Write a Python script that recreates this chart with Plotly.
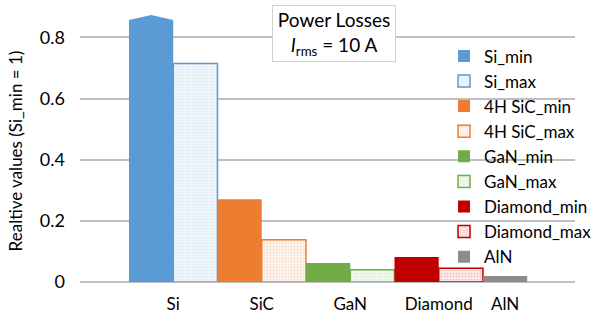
import plotly.graph_objects as go

series = ["Si_min", "Si_max", "4H SiC_min", "4H SiC_max", "GaN_min", "GaN_max",
          "Diamond_min", "Diamond_max", "AlN"]
series_category = ["Si", "Si", "SiC", "SiC", "GaN", "GaN", "Diamond", "Diamond", "AlN"]
values = [1.0, 0.715, 0.271, 0.138, 0.062, 0.040, 0.082, 0.045, 0.020]
categories = ["Si", "SiC", "GaN", "Diamond", "AlN"]
y_ticks = [0, 0.2, 0.4, 0.6, 0.8]
y_tick_labels = ["0", "0.2", "0.4", "0.6", "0.8"]

colors = ["#5b9bd5", "#5b9bd5", "#ed7d31", "#ed7d31", "#70ad47", "#70ad47",
          "#c00000", "#c00000", "#8c8c8c"]
light = ["", "#f2f7fc", "", "#fef5f0", "", "#f3f9ef", "", "#fcecec", ""]
grid_fg = ["", "#dbe8f5", "", "#fadcc9", "", "#dcedd0", "", "#f2c2c2", ""]

FONT = "Lato"
x_range = [-1.607, 9.58]
y_max = 0.857

fig = go.Figure()
for i, (name, v) in enumerate(zip(series, values)):
    if name.endswith("_max"):
        marker = dict(color=light[i],
                      line=dict(color=colors[i], width=1.5),
                      pattern=dict(shape="+", fgcolor=grid_fg[i], bgcolor=light[i],
                                   size=3, solidity=0.3, fillmode="replace"))
    else:
        marker = dict(color=colors[i], line=dict(width=0))
    fig.add_trace(go.Bar(x=[i], y=[v], name=name, width=1, marker=marker))

# tick positions = centre of each category's bars
tickvals = []
for c in categories:
    idx = [i for i, s in enumerate(series_category) if s == c]
    tickvals.append(sum(idx) / len(idx))

# broken-bar tip for the clipped Si_min bar
plot_h = 315 - 20 - 33
fig.add_shape(type="path", xref="x", yref="paper",
              path=f"M -0.5,1 L 0,{1 + 5 / plot_h} L 0.5,1 Z",
              fillcolor=colors[0], line=dict(width=0), layer="above")

fig.add_annotation(
    x=(333.5 - 80) / 495, y=1 + 15 / plot_h, xref="paper", yref="paper",
    xanchor="center", yanchor="top", showarrow=False,
    text="Power Losses<br><i>I</i><sub>rms</sub> = 10 A",
    font=dict(family=FONT, size=19, color="black"),
    bgcolor="white", bordercolor="#d0d0d0", borderwidth=1, borderpad=2,
    width=118, align="center")

fig.update_layout(
    width=593, height=315, autosize=False,
    margin=dict(l=80, r=18, t=20, b=33, autoexpand=False),
    paper_bgcolor="white", plot_bgcolor="white",
    barmode="overlay",
    font=dict(family=FONT, size=16, color="black"),
    showlegend=True,
    legend=dict(x=0.7354, y=0.930, xanchor="left", yanchor="top",
                bgcolor="rgba(0,0,0,0)", font=dict(family=FONT, size=17),
                tracegroupgap=0),
    xaxis=dict(range=x_range, tickvals=tickvals, ticktext=categories,
               showgrid=False, zeroline=False, showline=False, ticks="",
               ticklabelstandoff=10, tickfont=dict(size=17)),
    yaxis=dict(range=[0, y_max], tickvals=y_ticks, ticktext=y_tick_labels,
               showgrid=True, gridcolor="#bfbfbf", gridwidth=1.5,
               zeroline=True, zerolinecolor="#bfbfbf", zerolinewidth=1.5,
               ticklabelstandoff=14, tickfont=dict(size=18),
               title=dict(text="Realtive values (Si_min = 1)",
                          font=dict(size=17), standoff=12)),
)

fig.write_html("out.html",
               config={"responsive": False, "displayModeBar": False},
               post_script="document.body.style.margin='0';"
                           "document.body.style.padding='0';"
                           "document.body.style.overflow='hidden';")
